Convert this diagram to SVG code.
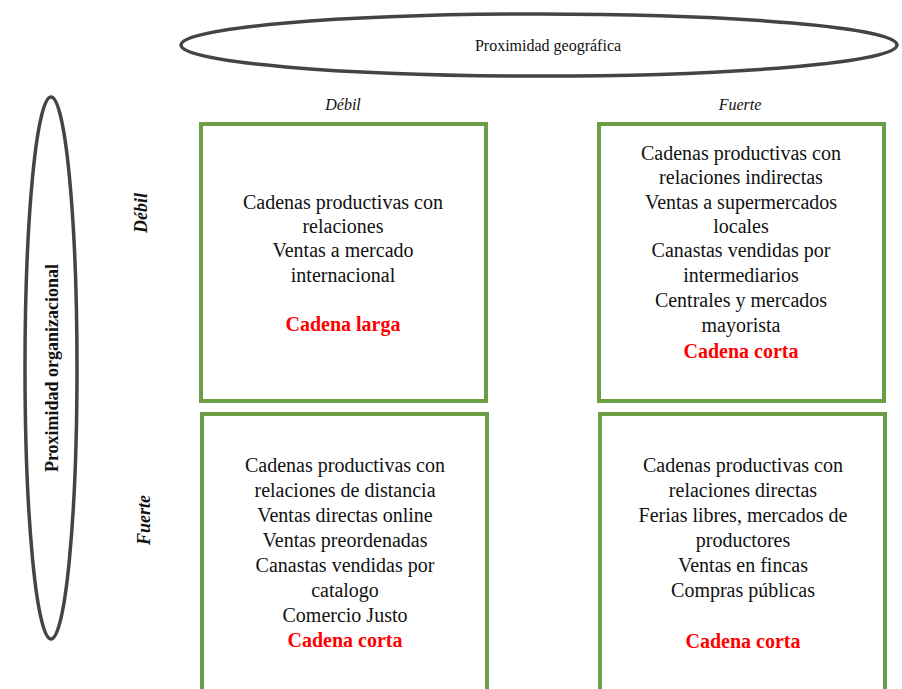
<svg xmlns="http://www.w3.org/2000/svg" width="902" height="689" viewBox="0 0 902 689">
<style>
text{font-family:"Liberation Serif","Times New Roman",serif}
.t{font-size:20px;fill:#111;text-anchor:middle}
.r{font-size:20px;font-weight:bold;fill:#f00;text-anchor:middle}
.box{fill:#fff;stroke:#6b9e45;stroke-width:4}
.ell{fill:none;stroke:#444;stroke-width:3.5}
.h{font-size:16px;font-style:italic;fill:#111;text-anchor:middle}
.hb{font-size:18px;font-style:italic;font-weight:bold;fill:#111;text-anchor:middle}
</style>
<rect width="902" height="689" fill="#fff"/>
<g id="geo">
<ellipse class="ell" cx="539" cy="45" rx="358" ry="31"/>
<text x="548" y="51" font-family="Liberation Serif, serif" font-size="16" fill="#111" text-anchor="middle">Proximidad geográfica</text>
</g>
<g id="org">
<ellipse class="ell" cx="51" cy="368" rx="26" ry="271"/>
<text transform="translate(58,368) rotate(-90)" font-family="Liberation Serif, serif" font-size="18" font-weight="bold" fill="#111" text-anchor="middle">Proximidad organizacional</text>
</g>
<g id="headers">
<text class="h" x="343" y="110">Débil</text>
<text class="h" x="740" y="110">Fuerte</text>
<text class="hb" transform="translate(147,213) rotate(-90)">Débil</text>
<text class="hb" transform="translate(150,520) rotate(-90)">Fuerte</text>
</g>
<g id="box1" font-family="Liberation Serif, serif">
<rect class="box" x="201" y="124" width="285" height="277"/>
<text class="t" x="343" y="209">Cadenas productivas con</text>
<text class="t" x="343" y="233">relaciones</text>
<text class="t" x="343" y="257">Ventas a mercado</text>
<text class="t" x="343" y="282">internacional</text>
<text class="r" x="343" y="331">Cadena larga</text>
</g>
<g id="box2" font-family="Liberation Serif, serif">
<rect class="box" x="599" y="124" width="285" height="277"/>
<text class="t" x="741" y="160">Cadenas productivas con</text>
<text class="t" x="741" y="184">relaciones indirectas</text>
<text class="t" x="741" y="209">Ventas a supermercados</text>
<text class="t" x="741" y="233">locales</text>
<text class="t" x="741" y="257">Canastas vendidas por</text>
<text class="t" x="741" y="282">intermediarios</text>
<text class="t" x="741" y="307">Centrales y mercados</text>
<text class="t" x="741" y="332">mayorista</text>
<text class="r" x="741" y="358">Cadena corta</text>
</g>
<g id="box3" font-family="Liberation Serif, serif">
<rect class="box" x="202" y="414" width="285" height="280"/>
<text class="t" x="345" y="472">Cadenas productivas con</text>
<text class="t" x="345" y="497">relaciones de distancia</text>
<text class="t" x="345" y="522">Ventas directas online</text>
<text class="t" x="345" y="547">Ventas preordenadas</text>
<text class="t" x="345" y="572">Canastas vendidas por</text>
<text class="t" x="345" y="597">catalogo</text>
<text class="t" x="345" y="622">Comercio Justo</text>
<text class="r" x="345" y="647">Cadena corta</text>
</g>
<g id="box4" font-family="Liberation Serif, serif">
<rect class="box" x="600" y="414" width="285" height="280"/>
<text class="t" x="743" y="472">Cadenas productivas con</text>
<text class="t" x="743" y="497">relaciones directas</text>
<text class="t" x="743" y="522">Ferias libres, mercados de</text>
<text class="t" x="743" y="547">productores</text>
<text class="t" x="743" y="572">Ventas en fincas</text>
<text class="t" x="743" y="597">Compras públicas</text>
<text class="r" x="743" y="648">Cadena corta</text>
</g>
<g id="connectors"/>
</svg>
